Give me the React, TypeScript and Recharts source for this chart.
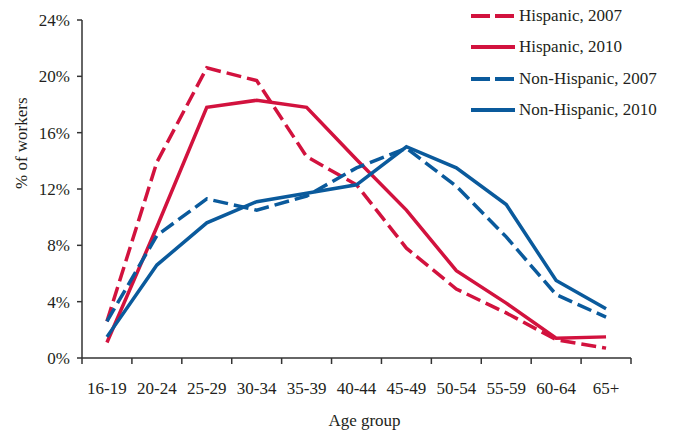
import { LineChart, Line, XAxis, YAxis, Legend } from 'recharts';

const ageGroups = ['16-19', '20-24', '25-29', '30-34', '35-39', '40-44', '45-49', '50-54', '55-59', '60-64', '65+'];
const hispanic2007 = [2.6, 13.9, 20.6, 19.7, 14.3, 12.3, 7.8, 4.9, 3.2, 1.3, 0.7];
const hispanic2010 = [1.1, 9.3, 17.8, 18.3, 17.8, 14.1, 10.5, 6.2, 3.9, 1.4, 1.5];
const nonHispanic2007 = [2.6, 8.7, 11.3, 10.5, 11.5, 13.5, 14.9, 12.2, 8.6, 4.5, 2.9];
const nonHispanic2010 = [1.5, 6.6, 9.6, 11.1, 11.7, 12.3, 15.0, 13.5, 10.9, 5.5, 3.5];
const yTicks = [0, 4, 8, 12, 16, 20, 24];

const RED = '#d2123e';
const BLUE = '#0a5a9c';
const FONT = '"Liberation Serif", "Times New Roman", serif';
const TEXT = '#231f20';

const series = [
  { key: 'h07', name: 'Hispanic, 2007', color: RED, dash: '15 6' },
  { key: 'h10', name: 'Hispanic, 2010', color: RED, dash: undefined },
  { key: 'n07', name: 'Non-Hispanic, 2007', color: BLUE, dash: '15 6' },
  { key: 'n10', name: 'Non-Hispanic, 2010', color: BLUE, dash: undefined },
];

const data = ageGroups.map((age, i) => ({
  age,
  h07: hispanic2007[i],
  h10: hispanic2010[i],
  n07: nonHispanic2007[i],
  n10: nonHispanic2010[i],
}));

// plot box
const left = 82;
const right = 631;
const halfStep = (right - left) / ageGroups.length / 2;

// tick marks sit on the band edges, labels in the middle
const AgeTick = (props: any) => {
  const { x, y, payload, index } = props;
  const axisY = y - 8;
  return (
    <g>
      <line x1={x - halfStep} y1={axisY} x2={x - halfStep} y2={axisY + 6} stroke="#333" strokeWidth={1.5} />
      {index === ageGroups.length - 1 && (
        <line x1={x + halfStep} y1={axisY} x2={x + halfStep} y2={axisY + 6} stroke="#333" strokeWidth={1.5} />
      )}
      <text x={x} y={y} dy={28} textAnchor="middle" fill={TEXT} fontSize={17} fontFamily={FONT}>
        {payload.value}
      </text>
    </g>
  );
};

const renderLegend = () => (
  <div style={{ fontFamily: FONT, fontSize: 17, color: TEXT, textAlign: 'left' }}>
    {series.map((s) => (
      <div key={s.key} style={{ display: 'flex', alignItems: 'center', height: 31.5 }}>
        <svg width={44} height={6}>
          <line x1={0} y1={3} x2={44} y2={3} stroke={s.color} strokeWidth={4} strokeDasharray={s.dash ? '19 5' : undefined} />
        </svg>
        <span style={{ marginLeft: 4 }}>{s.name}</span>
      </div>
    ))}
  </div>
);

export default function App() {
  return (
    <div style={{ position: 'fixed', left: 0, top: 0, background: '#fff' }}>
      <LineChart width={676} height={431} data={data} margin={{ top: 20, right: 676 - right, left: 0, bottom: 0 }}>
        <XAxis
          dataKey="age"
          height={73}
          padding={{ left: halfStep, right: halfStep }}
          tickLine={false}
          tickSize={6}
          tickMargin={2}
          tick={<AgeTick />}
          interval={0}
          axisLine={{ stroke: '#333', strokeWidth: 1.5 }}
          label={{ value: 'Age group', position: 'insideBottom', offset: 5, dx: 8, fill: TEXT, fontSize: 17, fontFamily: FONT }}
        />
        <YAxis
          width={left}
          domain={[0, 24]}
          ticks={yTicks}
          tickFormatter={(v) => `${v}%`}
          tickSize={5}
          tickMargin={7}
          tickLine={{ stroke: '#333', strokeWidth: 1.5 }}
          axisLine={{ stroke: '#333', strokeWidth: 1.5 }}
          tick={{ fill: TEXT, fontSize: 17, fontFamily: FONT }}
          label={{ value: '% of workers', angle: -90, position: 'insideLeft', offset: 21, fill: TEXT, fontSize: 17, fontFamily: FONT }}
        />
        <Legend
          layout="horizontal"
          align="center"
          verticalAlign="middle"
          content={renderLegend}
          wrapperStyle={{ top: 0, left: 471, width: 205 }}
        />
        {series.map((s) => (
          <Line
            key={s.key}
            dataKey={s.key}
            name={s.name}
            stroke={s.color}
            strokeWidth={3.5}
            strokeDasharray={s.dash}
            dot={false}
            activeDot={false}
            isAnimationActive={false}
          />
        ))}
      </LineChart>
    </div>
  );
}
